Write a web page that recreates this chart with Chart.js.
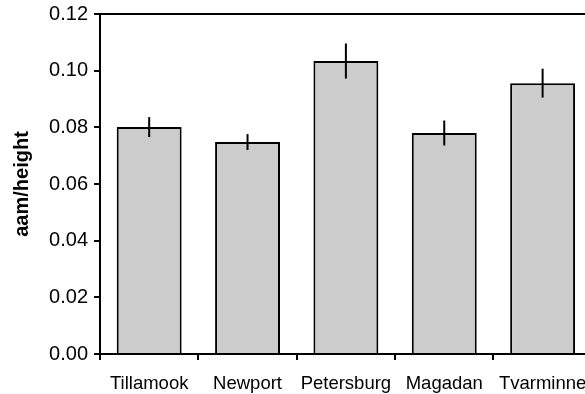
<!DOCTYPE html>
<html>
<head>
<meta charset="utf-8">
<script src="https://cdn.jsdelivr.net/npm/chart.js@4"></script>
<style>
    html, body { margin: 0; padding: 0; background: #fff; overflow: hidden; }
    #wrap { width: 600px; height: 394px; }
</style>
</head>
<body>
<div id="wrap"><canvas id="chart" width="600" height="394"></canvas></div>
<script>
// data
const sites = ['Tillamook', 'Newport', 'Petersburg', 'Magadan', 'Tvarminne'];
const aamHeight = [0.0801, 0.0748, 0.1034, 0.0780, 0.0956];
const aamError = [0.0035, 0.0028, 0.0062, 0.0044, 0.0051];
const yTicks = [0, 0.02, 0.04, 0.06, 0.08, 0.10, 0.12];

const FONT = 'Liberation Sans, Arial, Helvetica, sans-serif';

// error bars + top frame line
const errorBars = {
    id: 'errorBars',
    afterDatasetsDraw(chart) {
        const ctx = chart.ctx;
        const y = chart.scales.y;
        const meta = chart.getDatasetMeta(0);
        ctx.save();
        ctx.strokeStyle = '#000';
        ctx.lineWidth = 2;
        meta.data.forEach((bar, i) => {
            const hi = y.getPixelForValue(aamHeight[i] + aamError[i]);
            const lo = y.getPixelForValue(aamHeight[i] - aamError[i]);
            ctx.beginPath();
            ctx.moveTo(bar.x, hi);
            ctx.lineTo(bar.x, lo);
            ctx.stroke();
        });
        const area = chart.chartArea;
        ctx.beginPath();
        ctx.moveTo(area.left, area.top);
        ctx.lineTo(area.right, area.top);
        ctx.stroke();
        ctx.restore();
    }
};

new Chart(document.getElementById('chart'), {
    type: 'bar',
    data: {
        labels: sites,
        datasets: [{
            data: aamHeight,
            backgroundColor: '#cccccc',
            borderColor: '#000',
            borderWidth: 2,
            borderSkipped: 'bottom',
            categoryPercentage: 0.66,
            barPercentage: 1.0
        }]
    },
    options: {
        responsive: false,
        animation: false,
        layout: { padding: { top: 14, right: 7, left: 0, bottom: 0 } },
        plugins: {
            legend: { display: false },
            tooltip: { enabled: false }
        },
        scales: {
            x: {
                offset: true,
                afterFit: (scale) => { scale.height = 40; },
                grid: {
                    offset: true,
                    drawOnChartArea: false,
                    color: '#000',
                    tickLength: 6,
                    lineWidth: 2
                },
                border: { color: '#000', width: 2 },
                ticks: {
                    color: '#000',
                    font: { family: FONT, size: 18.5 },
                    padding: 13,
                    maxRotation: 0,
                    autoSkip: false
                }
            },
            y: {
                min: 0,
                max: 0.12,
                afterBuildTicks: (scale) => {
                    scale.ticks = yTicks.map(v => ({ value: v }));
                },
                afterFit: (scale) => {
                    scale.width = 100;
                    scale.paddingTop = 0;
                    scale.paddingBottom = 0;
                },
                grid: {
                    drawOnChartArea: false,
                    color: '#000',
                    tickLength: 6,
                    lineWidth: 2
                },
                border: { color: '#000', width: 2 },
                ticks: {
                    color: '#000',
                    font: { family: FONT, size: 20 },
                    padding: 6,
                    callback: (v) => Number(v).toFixed(2)
                },
                title: {
                    display: true,
                    text: 'aam/height',
                    color: '#000',
                    font: { family: FONT, size: 20, weight: 'bold' },
                    padding: { top: 10, bottom: 0 }
                }
            }
        }
    },
    plugins: [errorBars]
});
</script>
</body>
</html>
